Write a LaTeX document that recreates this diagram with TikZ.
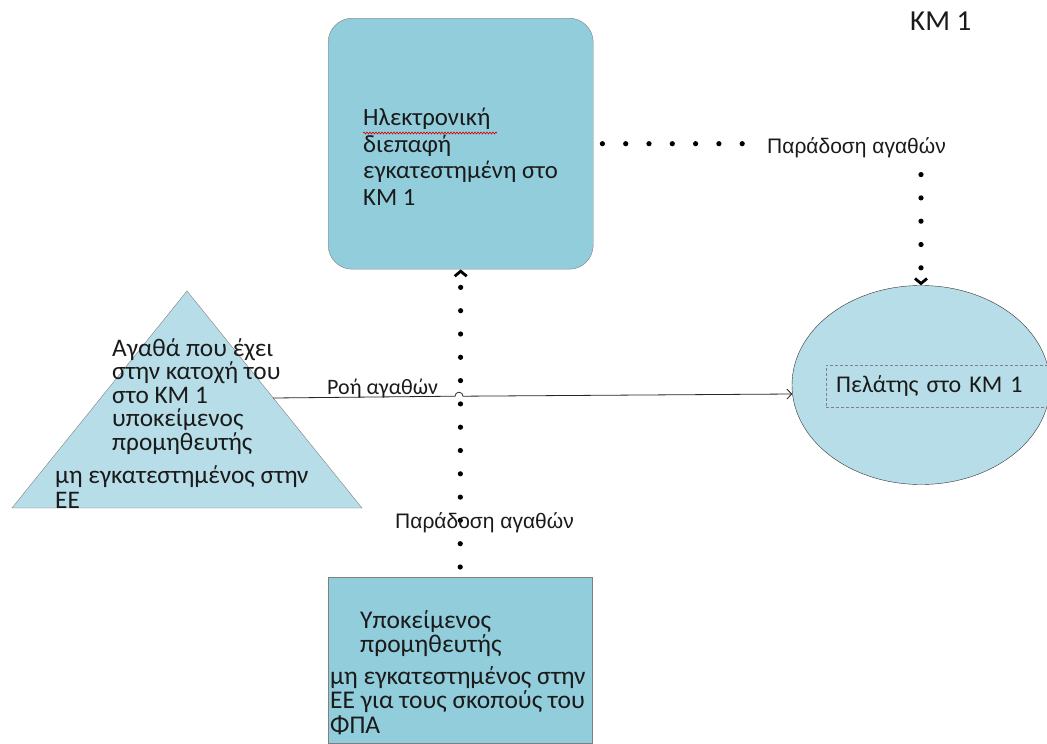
\documentclass[tikz,border=0pt]{standalone}
\usepackage{fontspec}
\setmainfont{Carlito}
\newfontfamily\arialf{Liberation Sans}
\usetikzlibrary{shapes.geometric,arrows.meta,decorations.pathmorphing,calc}
\definecolor{boxblue}{HTML}{92CDDC}
\definecolor{lightblue}{HTML}{B7DEE8}
\definecolor{edgegray}{HTML}{7F7F7F}
\definecolor{textcol}{HTML}{1A1A1A}
\begin{document}
\begin{tikzpicture}[x=1pt,y=-1pt,
  boxtext/.style={anchor=base west, align=left, inner sep=0pt, font=\fontsize{24.8}{26.5}\selectfont, text=textcol},
  tritext/.style={anchor=base west, align=left, inner sep=0pt, font=\fontsize{25.3}{23.5}\selectfont, text=textcol},
  dotline/.style={line width=5.2pt, line cap=round, dash pattern=on 0pt off 23.3pt},
  chev/.style={-{Straight Barb[length=5pt,width=12pt,line width=2.8pt]}},
  deliv/.style={font=\arialf\fontsize{21}{24}\selectfont, text=textcol, anchor=base west}
]
\useasboundingbox (0,0) rectangle (1047,744);
% top rounded box
\node[draw=edgegray, fill=boxblue, rounded corners=24pt, minimum width=265pt, minimum height=251pt, anchor=north west, inner sep=0pt] (iface) at (328,18) {};
\node[boxtext] (ifacetext) at (363,205) {Ηλεκτρονική\\διεπαφή\\εγκατεστημένη στο\\ΚΜ 1};
\draw[red!85!black, line width=0.6pt, decorate, decoration={snake, amplitude=1pt, segment length=3pt}] (363,133) -- (497,133);
% triangle
\coordinate (ta) at (187,291);
\coordinate (tl) at (12,508);
\coordinate (tr) at (362,508);
\coordinate (trs) at (273,398);
\draw[draw=edgegray, fill=lightblue] (ta) -- (tl) -- (tr) -- cycle;
\node[tritext] (tt1) at (112,450) {Αγαθά που έχει\\στην κατοχή του\\στο ΚΜ 1\\υποκείμενος\\προμηθευτής};
\node[tritext, font=\fontsize{25.3}{25}\selectfont] (tt2) at (55,508) {μη εγκατεστημένος στην\\ΕΕ};
% ellipse
\node[ellipse, draw=black!80, fill=lightblue, minimum width=258pt, minimum height=199pt, inner sep=0pt] (cust) at (921,385) {};
\node[draw=gray, densely dashed, anchor=west, minimum height=42pt, text width=215pt, inner xsep=10pt, align=left, font=\fontsize{24}{26}\selectfont, text=textcol] (custtext) at (826,386) {Πελάτης στο ΚΜ 1};
% bottom box
\node[draw=edgegray, fill=boxblue, minimum width=264pt, minimum height=166pt, anchor=north west, inner sep=0pt] (supp) at (328,577) {};
\node[boxtext, font=\fontsize{25.5}{24}\selectfont] (st1) at (360,652) {Υποκείμενος\\προμηθευτής};
\node[boxtext, font=\fontsize{25.5}{24.5}\selectfont] (st2) at (330,733) {μη εγκατεστημένος στην\\ΕΕ για τους σκοπούς του\\ΦΠΑ};
% flow arrow
\draw[line width=0.8pt, draw=black!85, -{Straight Barb[length=5pt,width=10pt]}] (trs) -- (455,396.2) arc[start angle=180, end angle=360, radius=4] -- (cust.184);
\node[anchor=base west, inner sep=0pt, font=\fontsize{22}{24}\selectfont, text=textcol] (flowlbl) at (327,394) {Ροή αγαθών};
% top delivery connector
\draw[dotline, dash phase=14.3pt, chev] (iface.east) -- (iface.east -| cust.north) -- (cust.north);
\node[deliv, fill=white, inner xsep=8pt, inner ysep=3pt] (dl1) at (759,153) {Παράδοση αγαθών};
% bottom delivery connector
\draw[dotline, dash phase=13.3pt, chev] (supp.north) -- (iface.south);
\node[deliv, inner sep=0pt] (dl2) at (395,528) {Παράδοση αγαθών};
% state label
\node[anchor=base west, inner sep=0pt, font=\fontsize{29}{30}\selectfont, text=textcol] (km) at (910,30) {ΚΜ 1};
\end{tikzpicture}
\end{document}
